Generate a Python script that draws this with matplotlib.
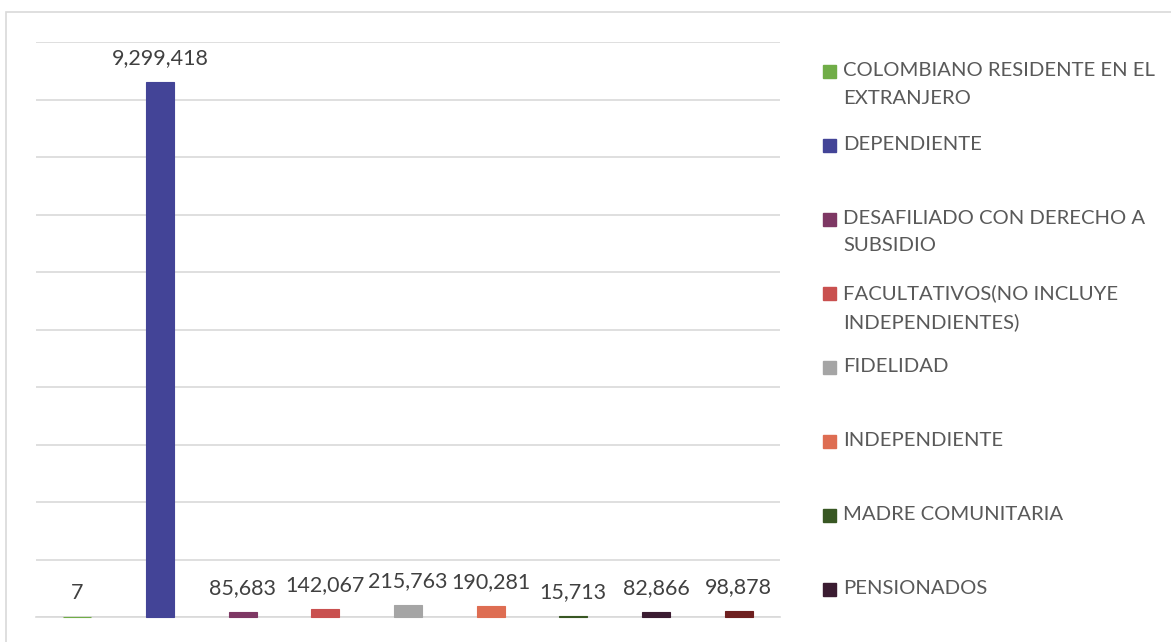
"""Afiliados por tipo de cotizante - barras con etiquetas y leyenda lateral."""

import matplotlib
matplotlib.use("Agg")
import matplotlib.pyplot as plt
from matplotlib.patches import Rectangle

categories = [
    "COLOMBIANO RESIDENTE EN EL\nEXTRANJERO",
    "DEPENDIENTE",
    "DESAFILIADO CON DERECHO A\nSUBSIDIO",
    "FACULTATIVOS(NO INCLUYE\nINDEPENDIENTES)",
    "FIDELIDAD",
    "INDEPENDIENTE",
    "MADRE COMUNITARIA",
    "PENSIONADOS",
    "OTROS",
]
values = [7, 9299418, 85683, 142067, 215763, 190281, 15713, 82866, 98878]
colors = ["#70AD47", "#434497", "#7E3864", "#C9504F", "#A5A5A5",
          "#DE6D52", "#385723", "#3B1C31", "#6E1F1F"]

plt.rcParams["font.family"] = ["Lato", "DejaVu Sans"]

W, H = 1171, 642
fig = plt.figure(figsize=(W / 100, H / 100), dpi=100)

# outer chart border
fig.patches.append(Rectangle((6 / W, -0.05), 1.2, 1 - 12 / H + 0.05,
                             transform=fig.transFigure, fill=False,
                             edgecolor="#D9D9D9", lw=1.2))

ax = fig.add_axes([36 / W, 1 - 617 / H, (780 - 36) / W, (617 - 42) / H])
x = range(len(values))
ax.bar(x, values, width=0.34, color=colors, edgecolor=colors, lw=0.8,
       zorder=3, clip_on=False)
ax.set_xlim(-0.5, len(values) - 0.5)
ax.set_ylim(0, 10_000_000)
ax.set_yticks(range(0, 10_000_001, 1_000_000))
ax.yaxis.grid(True, color="#D9D9D9", lw=1.2)
ax.set_xticks([])
ax.tick_params(left=False, labelleft=False)
for s in ["left", "right", "top"]:
    ax.spines[s].set_visible(False)
ax.spines["bottom"].set_color("#D9D9D9")
ax.spines["bottom"].set_linewidth(1.2)

for xi, v in zip(x, values):
    ax.annotate(f"{v:,}", (xi, v), xytext=(0, 10), textcoords="offset points",
                ha="center", va="bottom", fontsize=15.5, color="#404040")

# legend drawn by hand so that entries keep Excel's even spacing;
# entries that fall below the chart are clipped, as in the original
for i, (lab, c) in enumerate(zip(categories, colors)):
    yc = 71 + 74 * i
    if yc > H - 20:
        continue
    fig.patches.append(Rectangle((823 / W, 1 - (yc + 6.5) / H), 13 / W, 13 / H,
                                 transform=fig.transFigure, color=c))
    fig.text(843 / W, 1 - (yc - 9) / H, lab, ha="left", va="top",
             fontsize=14.6, color="#595959", linespacing=1.75)

fig.savefig("out.png", dpi=100)
